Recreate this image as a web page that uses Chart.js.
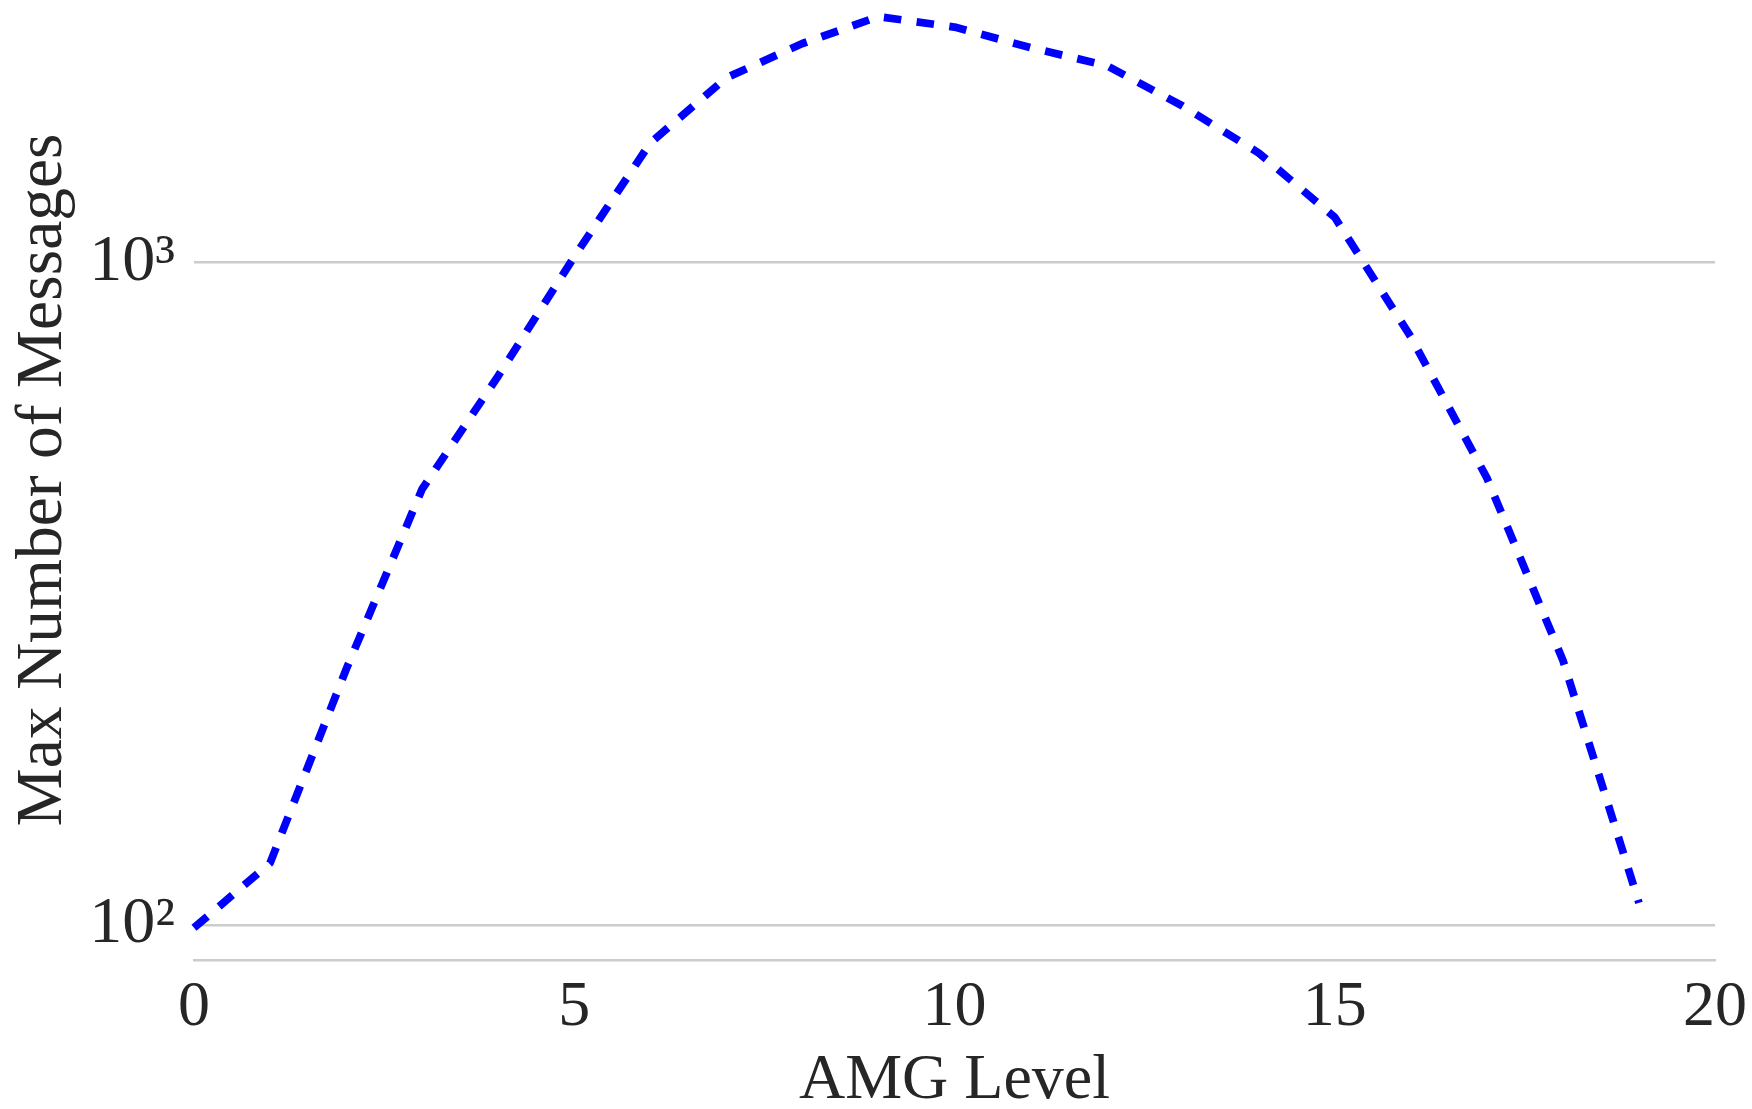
<!DOCTYPE html>
<html>
<head>
<meta charset="utf-8">
<title>AMG Level vs Max Number of Messages</title>
<script src="https://cdn.jsdelivr.net/npm/chart.js@4.4.0/dist/chart.umd.min.js"></script>
<style>
    html, body {
        margin: 0;
        padding: 0;
        background: #ffffff;
    }
    #messagesChart {
        display: block;
    }
</style>
</head>
<body>
<canvas id="messagesChart" width="1752" height="1109"></canvas>
<script>
const levels = [0, 1, 2, 3, 4, 5, 6, 7, 8, 9, 10, 11, 12, 13, 14, 15, 16, 17, 18, 19];
const maxMessages = [99, 124, 243, 455, 674, 1020, 1515, 1900, 2140, 2350, 2266, 2110, 1982, 1722, 1463, 1170, 772, 473, 251, 108];

const xTicks = [0, 5, 10, 15, 20];
const yTicks = [100, 1000];
const yTickLabels = ["10²", "10³"];

const textColor = "#262626";
const gridColor = "#cccccc";
const serif = "'Liberation Serif', 'Times New Roman', serif";

const ctx = document.getElementById("messagesChart").getContext("2d");

const data = {
    datasets: [
        {
            label: "Max Number of Messages",
            data: levels.map((level, i) => ({ x: level, y: maxMessages[i] })),
            borderColor: "#0000ff",
            borderWidth: 7.8,
            borderDash: [17.5, 15.5],
            borderCapStyle: "butt",
            borderJoinStyle: "round",
            pointRadius: 0,
            tension: 0,
            fill: false,
            clip: false,
        },
    ],
};

// the plot box is fixed: left 194, right 1715, top 0, bottom 960
const options = {
    responsive: false,
    animation: false,
    layout: {
        padding: { top: 0, right: 37, bottom: 0, left: 0 },
    },
    plugins: {
        legend: { display: false },
        tooltip: { enabled: false },
    },
    scales: {
        x: {
            type: "linear",
            min: 0,
            max: 20,
            afterBuildTicks: (scale) => {
                scale.ticks = xTicks.map((v) => ({ value: v }));
            },
            afterFit: (scale) => {
                scale.height = 149;
                scale.paddingLeft = 0;
                scale.paddingRight = 0;
            },
            grid: {
                display: false,
                drawTicks: false,
            },
            border: {
                display: true,
                color: gridColor,
                width: 2.6,
            },
            ticks: {
                color: textColor,
                padding: 10,
                maxRotation: 0,
                font: { family: serif, size: 64 },
            },
            title: {
                display: true,
                text: "AMG Level",
                color: textColor,
                padding: 0,
                font: { family: serif, size: 64, lineHeight: 0.86 },
            },
        },
        y: {
            type: "logarithmic",
            min: 88.53,
            max: 2489.6,
            afterBuildTicks: (scale) => {
                scale.ticks = yTicks.map((v) => ({ value: v }));
            },
            afterFit: (scale) => {
                scale.width = 194;
                scale.paddingTop = 0;
                scale.paddingBottom = 0;
            },
            grid: {
                color: gridColor,
                lineWidth: 2.6,
                drawTicks: false,
            },
            border: { display: false },
            ticks: {
                color: textColor,
                padding: 19,
                font: { family: serif, size: 66 },
                callback: (value) => yTickLabels[yTicks.indexOf(value)] ?? "",
            },
            title: {
                display: true,
                text: "Max Number of Messages",
                color: textColor,
                padding: { top: 4, bottom: 0 },
                font: { family: serif, size: 65.5, lineHeight: 1.2 },
            },
        },
    },
};

new Chart(ctx, {
    type: "line",
    data,
    options,
});
</script>
</body>
</html>
